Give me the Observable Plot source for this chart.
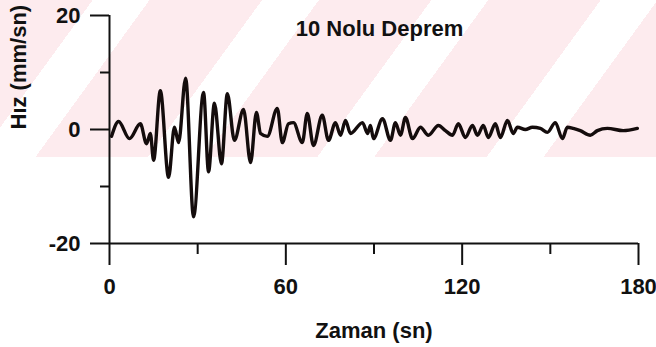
<!DOCTYPE html>
<html><head><meta charset="utf-8">
<script src="https://cdn.jsdelivr.net/npm/d3@7"></script>
<script src="https://cdn.jsdelivr.net/npm/@observablehq/plot@0.6"></script>
<style>
html,body{margin:0;padding:0;background:#fff;}
#wrap{position:relative;width:656px;height:347px;overflow:hidden;}
#wm{position:absolute;left:0;top:0;width:656px;height:157px;
  background:repeating-linear-gradient(126deg,#fdebee 0px,#fdebee 75px,#ffffff 75px,#ffffff 121px,#fdebee 121px,#fdebee 137px);}
#chart{position:absolute;left:0;top:0;}
</style>
</head><body>
<div id="wrap"><div id="wm"></div><div id="chart"></div></div>
<script>
const title = "10 Nolu Deprem";
const xLabel = "Zaman (sn)";
const yLabel = "Hız (mm/sn)";
const xTicks = [0, 60, 120, 180];
const xMinorTicks = [30, 90, 150];
const yTicks = [-20, 0, 20];
const yMinorTicks = [-10, 10];

// time (s) and velocity (mm/s)
const times = [0.7, 3.1, 6.8, 10.5, 12.6, 13.9, 15.0, 17.3, 20.1, 22.1, 23.5, 25.9, 28.6, 32.0, 33.7, 35.7, 38.1, 40.1, 42.5, 45.6,
  48.0, 50.0, 51.4, 53.7, 57.1, 58.8, 60.9, 62.6, 65.6, 67.3, 69.4, 72.4, 74.5, 76.9, 78.6, 80.3, 82.0, 86.1, 87.8, 88.8,
  89.8, 92.9, 95.6, 97.3, 99.0, 100.7, 103.1, 105.8, 108.5, 111.9, 114.3, 116.7, 118.7, 121.1, 123.5, 125.2, 127.2, 128.9, 131.3, 133.0,
  135.4, 137.4, 138.8, 141.5, 143.9, 146.6, 149.0, 151.7, 154.1, 155.8, 157.8, 160.2, 163.6, 166.0, 169.4, 174.8, 179.6];
const values = [-1.2, 1.4, -1.6, 1.0, -2.5, -0.7, -5.4, 6.8, -8.4, 0.4, -2.3, 9.0, -15.3, 6.5, -7.4, 4.6, -6.0, 6.3, -1.9, 3.5,
  -5.8, 3.0, -0.7, -1.2, 3.7, -2.3, 1.0, 1.2, -2.3, 2.8, -2.8, 2.5, -1.9, 1.2, -1.0, 1.6, -0.7, 1.2, -0.7, 0.7,
  -1.6, 1.9, -1.9, 1.2, -1.0, 2.1, -1.6, 0.4, -1.0, 0.7, -0.2, -1.0, 1.0, -1.4, 0.7, -1.0, 0.7, -1.4, 1.0, -1.4,
  1.6, -0.7, 0.4, 0.0, 0.4, 0.2, -0.5, 1.2, -1.6, 0.4, 0.2, -0.2, -1.0, -0.2, 0.2, -0.2, 0.2];

const data = times.map((t, i) => ({t, v: values[i]}));

const font = "'Liberation Sans', Arial, sans-serif";
const chart = Plot.plot({
  width: 656,
  height: 347,
  marginLeft: 109,
  marginRight: 18,
  marginTop: 15,
  marginBottom: 104,
  style: {background: "transparent", fontFamily: font, fontSize: "22px", fontWeight: "bold", color: "#111"},
  x: {domain: [0, 180]},
  y: {domain: [-20, 20]},
  marks: [
    Plot.axisX({ticks: xTicks, tickSize: 22, tickPadding: 13, tickFormat: d => String(d), label: null, strokeWidth: 2}),
    Plot.axisX({ticks: xMinorTicks, tickSize: 11, tickFormat: () => "", label: null, strokeWidth: 2}),
    Plot.axisY({ticks: yTicks, tickSize: 19, tickPadding: 10, tickFormat: d => String(d), label: null, strokeWidth: 2}),
    Plot.axisY({ticks: yMinorTicks, tickSize: 9, tickFormat: () => "", label: null, strokeWidth: 2}),
    Plot.ruleX([0], {stroke: "#111", strokeWidth: 2}),
    Plot.ruleY([-20], {stroke: "#111", strokeWidth: 2}),
    Plot.line(data, {x: "t", y: "v", stroke: "#140c0c", strokeWidth: 3.4, curve: "monotone-x"}),
    Plot.text([title], {frameAnchor: "top", dx: 5.5, dy: 13.5, lineAnchor: "middle", fontSize: 22, fill: "#111"}),
    Plot.text([xLabel], {frameAnchor: "bottom", dy: 87, lineAnchor: "middle", fontSize: 22, fill: "#111"}),
    Plot.text([yLabel], {frameAnchor: "left", dx: -90.5, rotate: -90, lineAnchor: "middle", fontSize: 22, fill: "#111"})
  ]
});
document.getElementById("chart").appendChild(chart);
</script>
</body></html>
